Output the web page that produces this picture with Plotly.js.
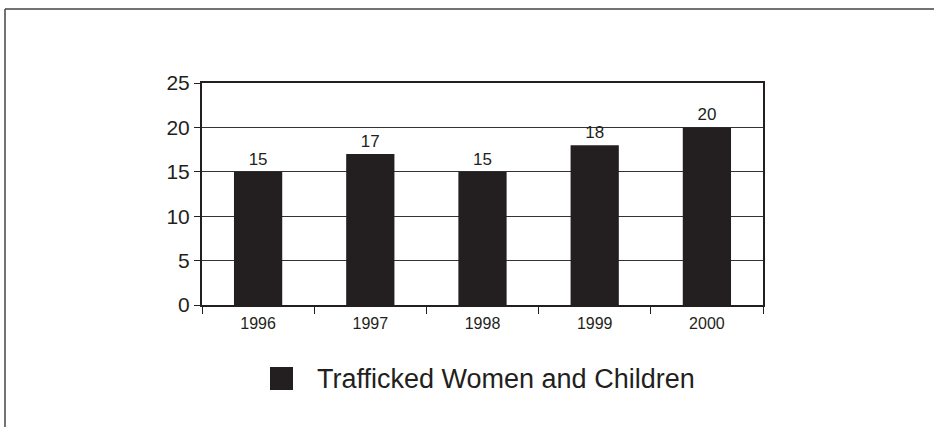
<!DOCTYPE html>
<html>
<head>
<meta charset="utf-8">
<script src="https://cdn.plot.ly/plotly-3.0.1.min.js"></script>
<style>
  html, body { margin: 0; padding: 0; background: #fff; }
  #chart { width: 934px; height: 427px; }
</style>
</head>
<body>
<div id="chart"></div>
<script>
const years = ['1996', '1997', '1998', '1999', '2000'];
const values = [15, 17, 15, 18, 20];
const seriesName = 'Trafficked Women and Children';
const yTicks = [0, 5, 10, 15, 20, 25];

const FONT = 'Liberation Sans, Arial, Helvetica, sans-serif';
const DARK = '#231f20';

// plot area in pixels
const W = 934, H = 427;
const L = 202, R = 763, T = 83, B = 305;
const pw = R - L, ph = B - T;
const px = x => (x - L) / pw;
const py = y => (B - y) / ph;

const trace = {
  type: 'bar',
  x: years,
  y: values,
  name: seriesName,
  marker: { color: DARK, line: { width: 0 } },
  text: values.map(String),
  textposition: 'outside',
  textfont: { family: FONT, size: 17, color: DARK },
  cliponaxis: false,
  hoverinfo: 'none'
};

const layout = {
  width: W, height: H,
  margin: { l: L, r: W - R, t: T, b: H - B, pad: 0 },
  paper_bgcolor: '#fff',
  plot_bgcolor: '#fff',
  showlegend: false,
  bargap: 0.57,
  font: { family: FONT, color: DARK },
  xaxis: {
    type: 'category',
    range: [-0.5, 4.5],
    showline: true, linecolor: DARK, linewidth: 2, mirror: true,
    ticks: 'outside', tickson: 'boundaries', ticklen: 7, tickwidth: 1, tickcolor: DARK,
    ticklabelstandoff: 3,
    tickfont: { family: FONT, size: 16, color: DARK },
    showgrid: false, zeroline: false, fixedrange: true
  },
  yaxis: {
    range: [0, 25],
    tickvals: yTicks,
    ticktext: yTicks.map(String),
    showline: true, linecolor: DARK, linewidth: 2, mirror: true,
    ticks: 'outside', ticklen: 6, tickwidth: 1, tickcolor: DARK,
    tickfont: { family: FONT, size: 21, color: DARK },
    showgrid: true, gridcolor: '#333', gridwidth: 1,
    zeroline: false, fixedrange: true
  },
  shapes: [
    // outer frame: top and left edges
    { type: 'line', xref: 'paper', yref: 'paper', x0: px(5), x1: px(W + 2), y0: py(9), y1: py(9), line: { color: '#444', width: 1.5 } },
    { type: 'line', xref: 'paper', yref: 'paper', x0: px(5), x1: px(5), y0: py(9), y1: py(H + 2), line: { color: '#444', width: 1.5 } },
    // legend swatch
    { type: 'rect', xref: 'paper', yref: 'paper', x0: px(270), x1: px(293), y0: py(390), y1: py(367), fillcolor: DARK, line: { width: 0 } }
  ],
  annotations: [
    { xref: 'paper', yref: 'paper', x: px(315), y: py(379), xanchor: 'left', yanchor: 'middle',
      text: seriesName, showarrow: false, font: { family: FONT, size: 27, color: DARK } }
  ]
};

Plotly.newPlot('chart', [trace], layout, { displayModeBar: false, staticPlot: true });
</script>
</body>
</html>
